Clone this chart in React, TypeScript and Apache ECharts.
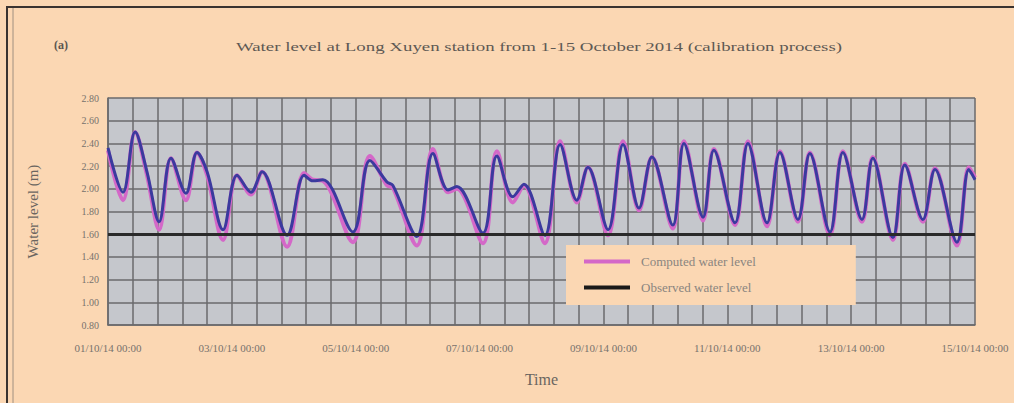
import React, { useEffect, useRef } from "react";
import * as echarts from "echarts";

// Time in hours since 01/10/2014 00:00
const hours = [
  0, 5.8, 10.5, 15.1, 19.8, 24.4, 30.2, 34.5, 38.4, 44.6, 50.0, 55.4, 59.7, 69.4, 76.0, 79.4, 83.3,
  94.9, 101.5, 108.1, 110.4, 119.7, 125.9, 131.8, 135.2, 145.3, 150.7, 156.9, 161.2, 169.3, 175.2,
  181.7, 186.0, 193.8, 199.6, 205.8, 210.8, 218.9, 223.2, 230.6, 234.8, 243.0, 248.0, 255.4, 260.4,
  267.4, 272.0, 279.8, 284.8, 292.2, 296.4, 304.2, 308.8, 315.8, 320.5, 329.0, 333.6, 336.0,
];

const observed = [
  2.36, 1.97, 2.5, 2.15, 1.71, 2.27, 1.96, 2.32, 2.15, 1.64, 2.12, 1.97, 2.15, 1.59, 2.12, 2.07, 2.08,
  1.62, 2.25, 2.06, 2.03, 1.58, 2.31, 1.99, 2.02, 1.61, 2.29, 1.93, 2.04, 1.59, 2.39,
  1.9, 2.19, 1.64, 2.39, 1.83, 2.28, 1.68, 2.4, 1.75, 2.34, 1.7, 2.4, 1.7, 2.32,
  1.73, 2.31, 1.62, 2.32, 1.73, 2.27, 1.57, 2.21, 1.73, 2.17, 1.53, 2.17, 2.08,
];

const computed = [
  2.34, 1.9, 2.5, 2.12, 1.64, 2.27, 1.9, 2.32, 2.12, 1.55, 2.12, 1.95, 2.15, 1.49, 2.14, 2.08, 2.07,
  1.53, 2.29, 2.03, 2.01, 1.5, 2.35, 1.97, 2.0, 1.52, 2.33, 1.88, 2.03, 1.52, 2.42,
  1.88, 2.19, 1.59, 2.42, 1.81, 2.28, 1.65, 2.42, 1.72, 2.35, 1.68, 2.42, 1.67, 2.33,
  1.71, 2.32, 1.59, 2.33, 1.71, 2.28, 1.55, 2.22, 1.71, 2.18, 1.5, 2.19, 2.1,
];

const xTickLabels = [
  "01/10/14 00:00",
  "03/10/14 00:00",
  "05/10/14 00:00",
  "07/10/14 00:00",
  "09/10/14 00:00",
  "11/10/14 00:00",
  "13/10/14 00:00",
  "15/10/14 00:00",
];

const referenceLevel = 1.6;

const PEACH = "#fbd7b3";
const FONT = "Liberation Serif";

export default function App() {
  const ref = useRef<HTMLDivElement>(null);
  useEffect(() => {
    if (!ref.current) return;
    const chart = echarts.init(ref.current, null, { renderer: "svg" });
    const obsData = hours.map((h, i) => [h, observed[i]]);
    const compData = hours.map((h, i) => [h, computed[i]]);
    chart.setOption({
      animation: false,
      backgroundColor: PEACH,
      textStyle: { fontFamily: FONT },
      grid: { left: 108, top: 98, width: 867, height: 227, show: true, backgroundColor: "#c5c7cc", borderWidth: 0 },
      xAxis: {
        type: "value",
        min: 0,
        max: 336,
        interval: 48,
        name: "Time",
        nameLocation: "middle",
        nameGap: 46,
        nameTextStyle: { fontFamily: FONT, fontSize: 16, color: "#6a6560" },
        axisLine: { show: true, lineStyle: { color: "#6a6a6c", width: 1.5 } },
        axisTick: { show: false },
        minorTick: { show: false, splitNumber: 5 },
        axisLabel: {
          fontFamily: FONT,
          fontSize: 11,
          color: "#77726d",
          margin: 17,
          formatter: (v: number) => xTickLabels[Math.round(v / 48)] ?? "",
        },
        splitLine: { show: true, lineStyle: { color: "#6a6a6c", width: 1.5 } },
        minorSplitLine: { show: true, lineStyle: { color: "#6a6a6c", width: 1.5 } },
      },
      yAxis: {
        type: "value",
        min: 0.8,
        max: 2.8,
        interval: 0.2,
        name: "Water level (m)",
        nameLocation: "middle",
        nameGap: 68,
        nameTextStyle: { fontFamily: FONT, fontSize: 15, color: "#6a6560" },
        axisLine: { show: true, lineStyle: { color: "#6a6a6c", width: 1.5 } },
        axisTick: { show: false },
        axisLabel: {
          fontFamily: FONT,
          fontSize: 10,
          color: "#77726d",
          margin: 9,
          formatter: (v: number) => v.toFixed(2),
        },
        splitLine: { show: true, lineStyle: { color: "#6a6a6c", width: 1.5 } },
      },
      legend: {
        orient: "vertical",
        left: 566,
        top: 245,
        padding: [10, 100, 11, 18],
        itemGap: 13,
        itemWidth: 46,
        itemHeight: 4,
        backgroundColor: PEACH,
        textStyle: { fontFamily: FONT, fontSize: 13, color: "#8a8580", padding: [0, 0, 0, 6] },
        data: [
          { name: "Computed water level", icon: "rect", itemStyle: { color: "#d468c8" } },
          { name: "Observed water level", icon: "rect", itemStyle: { color: "#1a1a1a" } },
        ],
      },
      graphic: [
        {
          type: "rect",
          shape: { x: 7, y: 7, width: 1100, height: 500 },
          style: { fill: "none", stroke: "#3a3330", lineWidth: 2 },
          silent: true,
        },
        {
          type: "line",
          shape: { x1: 13, y1: 8, x2: 13, y2: 403 },
          style: { stroke: "#a09080", lineWidth: 1 },
          silent: true,
        },
        {
          type: "text",
          x: 539,
          y: 47,
          scaleX: 1.45,
          style: {
            text: "Water level at Long Xuyen station from 1-15 October 2014 (calibration process)",
            fontFamily: FONT,
            fontSize: 13,
            fill: "#5e5954",
            textAlign: "center",
            textVerticalAlign: "middle",
          },
        },
        {
          type: "text",
          left: 54,
          top: 39,
          style: { text: "(a)", fontFamily: FONT, fontSize: 12, fontWeight: "bold", fill: "#5a5550" },
        },
      ],
      series: [
        {
          name: "Computed water level",
          type: "line",
          data: compData,
          smooth: 0.35,
          showSymbol: false,
          lineStyle: { color: "#d468c8", width: 4 },
          itemStyle: { color: "#d468c8" },
          z: 2,
          markLine: {
            silent: true,
            symbol: ["none", "none"],
            label: { show: false },
            lineStyle: { color: "#2a2a2a", width: 3, type: "solid" },
            data: [{ yAxis: referenceLevel }],
          },
        },
        {
          name: "Observed water level",
          type: "line",
          data: obsData,
          smooth: 0.35,
          showSymbol: false,
          lineStyle: { color: "#3b3a9e", width: 3 },
          itemStyle: { color: "#3b3a9e" },
          z: 3,
        },
      ],
    });
    return () => chart.dispose();
  }, []);
  return (
    <div
      ref={ref}
      style={{ position: "fixed", left: 0, top: 0, width: 1014, height: 403 }}
    />
  );
}
